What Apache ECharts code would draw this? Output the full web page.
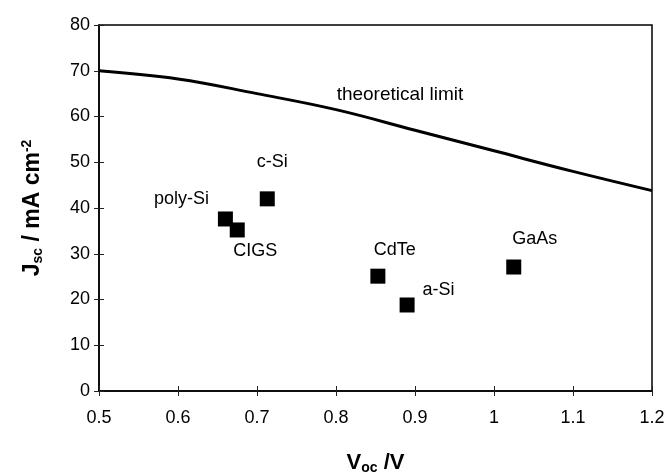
<!DOCTYPE html>
<html><head><meta charset="utf-8">
<script src="https://cdn.jsdelivr.net/npm/echarts@6/dist/echarts.min.js"></script>
<style>html,body{margin:0;padding:0;background:#fff;overflow:hidden}#c{width:669px;height:473px}</style>
</head><body><div id="c"></div>
<script>
var cellNames = ['poly-Si','CIGS','c-Si','CdTe','a-Si','GaAs'];
var vocValues = [0.66, 0.675, 0.713, 0.853, 0.89, 1.025];
var jscValues = [37.6, 35.2, 42.0, 25.1, 18.8, 27.1];
var limitVoc = [0.5, 0.6, 0.7, 0.8, 0.9, 1.0, 1.1, 1.2];
var limitJsc = [70, 68.2, 65, 61.5, 57, 52.5, 48, 43.8];
var limitLabel = 'theoretical limit';
var limitLabelAt = [0.881, 64.7];
var xTicks = [0.5, 0.6, 0.7, 0.8, 0.9, 1, 1.1, 1.2];
var yTicks = [0, 10, 20, 30, 40, 50, 60, 70, 80];

var labelStyle = {
  'poly-Si': {position: 'left', offset: [-4, -20]},
  'CIGS': {position: 'bottom', offset: [18, 0]},
  'c-Si': {position: 'top', offset: [5, -15]},
  'CdTe': {position: 'top', offset: [17, -5]},
  'a-Si': {position: 'right', offset: [3, -15]},
  'GaAs': {position: 'top', offset: [21, -6]}
};

var font = '"Liberation Sans", Arial, sans-serif';
var chart = echarts.init(document.getElementById('c'), null, {renderer: 'canvas'});
var pts = cellNames.map(function (n, i) {
  var s = labelStyle[n];
  return {value: [vocValues[i], jscValues[i]], name: n,
    label: {show: true, formatter: n, position: s.position, offset: s.offset,
      color: '#000', fontSize: 18, fontFamily: font}};
});
var xRange = {type: 'value', min: xTicks[0], max: xTicks[xTicks.length - 1], interval: 0.1};
var yRange = {type: 'value', min: yTicks[0], max: yTicks[yTicks.length - 1], interval: 10};
chart.setOption({
  animation: false,
  backgroundColor: '#fff',
  grid: {left: 99, right: 17, top: 25, bottom: 82, containLabel: false, outerBoundsMode: 'none',
    show: true, borderColor: '#000', borderWidth: 1.5, backgroundColor: 'transparent'},
  xAxis: [Object.assign({}, xRange, {
    position: 'bottom',
    name: 'V{s|oc} /V', nameLocation: 'middle', nameGap: 60,
    nameTextStyle: {fontSize: 22, fontWeight: 'bold', color: '#000', fontFamily: font,
      rich: {s: {fontSize: 14, fontWeight: 'bold', padding: [10, 0, 0, 0], color: '#000', fontFamily: font}}},
    axisLine: {show: true, onZero: false, lineStyle: {color: '#000', width: 1.5}},
    axisTick: {show: true, inside: false, length: 5, lineStyle: {color: '#222', width: 1}},
    axisLabel: {color: '#000', fontSize: 18, fontFamily: font, margin: 18,
      formatter: function (v) { return String(Math.round(v * 10) / 10); }},
    splitLine: {show: false}
  }), Object.assign({}, xRange, {
    position: 'bottom', axisLine: {show: false},
    axisTick: {show: true, inside: true, length: 5, lineStyle: {color: '#222', width: 1}},
    axisLabel: {show: false}, splitLine: {show: false}
  })],
  yAxis: [Object.assign({}, yRange, {
    position: 'left',
    name: 'J{s|sc} / mA cm{p|-2}', nameLocation: 'middle', nameGap: 53, nameRotate: 90,
    nameTextStyle: {fontSize: 23, fontWeight: 'bold', color: '#000', fontFamily: font,
      rich: {s: {fontSize: 14, fontWeight: 'bold', padding: [10, 0, 0, 0], color: '#000', fontFamily: font},
             p: {fontSize: 14, fontWeight: 'bold', padding: [0, 0, 12, 0], color: '#000', fontFamily: font}}},
    axisLine: {show: true, lineStyle: {color: '#000', width: 1.5}},
    axisTick: {show: true, length: 5, lineStyle: {color: '#222', width: 1}},
    axisLabel: {color: '#000', fontSize: 18, fontFamily: font, margin: 9},
    splitLine: {show: false}
  }), Object.assign({}, yRange, {
    position: 'left', axisLine: {show: false},
    axisTick: {show: true, inside: true, length: 5, lineStyle: {color: '#222', width: 1}},
    axisLabel: {show: false}, splitLine: {show: false}
  })],
  series: [
    {type: 'line', data: limitVoc.map(function (v, i) { return [v, limitJsc[i]]; }),
     smooth: 0.4, symbol: 'none', lineStyle: {color: '#000', width: 3}, z: 3},
    {type: 'scatter', data: pts, symbol: 'rect', symbolSize: 15,
     itemStyle: {color: '#000', opacity: 1}, z: 4},
    {type: 'scatter', data: [{value: limitLabelAt, label: {show: true, formatter: limitLabel, position: 'inside',
      color: '#000', opacity: 1, fontSize: 19, fontFamily: font}}], symbolSize: 0,
     itemStyle: {color: '#000', opacity: 1}, z: 5}
  ]
});
</script></body></html>
